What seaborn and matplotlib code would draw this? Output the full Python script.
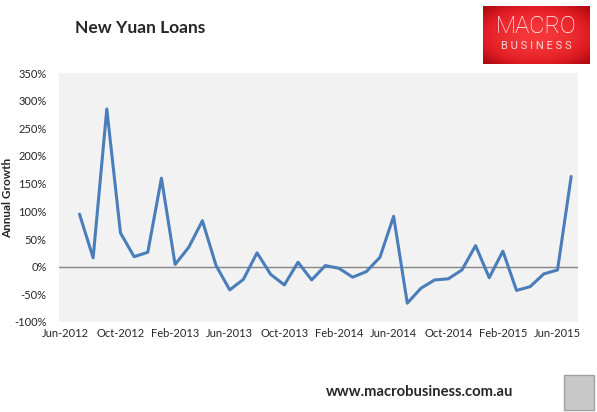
import numpy as np
import pandas as pd
import matplotlib.pyplot as plt
import matplotlib.patches as mpatches
import matplotlib.ticker as mticker
import seaborn as sns

# New yuan loans, annual growth (%), Jul-2012 .. Jul-2015
months = pd.date_range("2012-07-01", periods=37, freq="MS")
growth = [95, 16, 285, 61, 18, 26, 160, 4, 35, 83, 2, -42, -23, 25, -14, -33, 8,
          -24, 2, -3, -19, -9, 17, 91, -66, -39, -24, -22, -6, 38, -20, 28, -43,
          -36, -13, -6, 163]
tick_labels = ["Jun-2012", "Oct-2012", "Feb-2013", "Jun-2013", "Oct-2013",
               "Feb-2014", "Jun-2014", "Oct-2014", "Feb-2015", "Jun-2015"]

# category position 0 = Jun-2012, data starts at 1
df = pd.DataFrame({"pos": range(1, len(growth) + 1), "growth": growth, "month": months})

sns.set_style("white")
plt.rcParams["font.family"] = ["Lato", "DejaVu Sans"]

fig = plt.figure(figsize=(5.97, 4.12), dpi=100)
ax = fig.add_axes([59 / 597, 90 / 412, 519 / 597, 249 / 412])
ax.set_facecolor("#F2F2F2")

ax.axhline(0, color="#868686", linewidth=1.0, zorder=1)
sns.lineplot(data=df, x="pos", y="growth", ax=ax, color="#4A7EBB", linewidth=2.2, zorder=2)

ax.set_xlim(-0.5, 37.5)
ax.set_ylim(-100, 350)
ax.yaxis.set_major_locator(mticker.MultipleLocator(50))
ax.yaxis.set_major_formatter(mticker.FuncFormatter(lambda v, p: f"{v:.0f}%"))
ax.set_xticks(range(0, 37, 4))
ax.set_xticklabels(tick_labels)
ax.tick_params(axis="both", length=0, labelsize=8, pad=4)
ax.tick_params(axis="y", pad=9)
for s in ax.spines.values():
    s.set_visible(False)

ax.set_xlabel("")
ax.set_ylabel("Annual Growth", fontsize=8.5, fontweight="bold")
# label anchor is its right edge once rotated -> ~13 px from the figure edge
ax.yaxis.set_label_coords(-0.088, 0.5)

fig.text(75 / 597, 1 - 28 / 412, "New Yuan Loans", fontsize=12.5, fontweight="bold",
         va="center", ha="left")

# logo box with a soft red gradient
lax = fig.add_axes([483 / 597, 1 - 64 / 412, 106 / 597, 58 / 412])
yy, xx = np.mgrid[-1:1:60j, -1:1:110j]
glow = np.clip(1 - 0.55 * (xx ** 2 + yy ** 2), 0, 1)
lax.imshow(glow, cmap=sns.blend_palette(["#B00A14", "#E21E24", "#F5373A"], as_cmap=True),
           aspect="auto", vmin=0, vmax=1, extent=(0, 1, 0, 1))
lax.set_axis_off()
lax.text(0.5, 0.64, "MACRO", color="white", fontsize=17, family="Roboto",
         fontweight="light", ha="center", va="center", transform=lax.transAxes)
lax.text(0.5, 0.31, "B U S I N E S S", color="#F8D6D6", fontsize=8, family="Roboto",
         ha="center", va="center", transform=lax.transAxes)

fig.text(419.5 / 597, 1 - 392 / 412, "www.macrobusiness.com.au", fontsize=10.6,
         fontweight="bold", ha="center", va="center")

# wolf badge placeholder
badge = mpatches.Rectangle((564 / 597, 1 - 410 / 412), 30 / 597, 35 / 412,
                           transform=fig.transFigure, facecolor="#C8C8C8",
                           edgecolor="#A0A0A0", linewidth=1)
fig.patches.append(badge)

fig.savefig("out.png", dpi=100)
